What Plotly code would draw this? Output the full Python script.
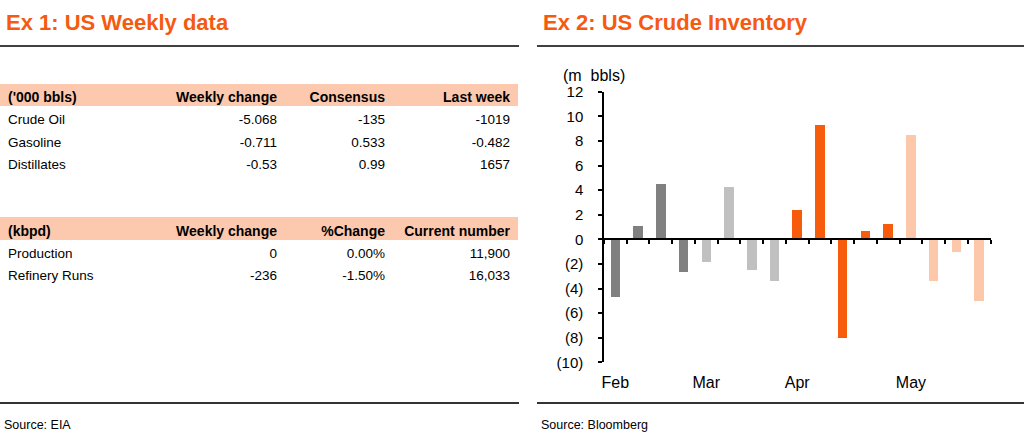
import plotly.graph_objects as go

# ---- Ex 1 table data ----
t1_header = ["('000 bbls)", "Weekly change", "Consensus", "Last week"]
t1_items = ["Crude Oil", "Gasoline", "Distillates"]
t1_weekly = ["-5.068", "-0.711", "-0.53"]
t1_consensus = ["-135", "0.533", "0.99"]
t1_last = ["-1019", "-0.482", "1657"]

t2_header = ["(kbpd)", "Weekly change", "%Change", "Current number"]
t2_items = ["Production", "Refinery Runs"]
t2_weekly = ["0", "-236"]
t2_pct = ["0.00%", "-1.50%"]
t2_current = ["11,900", "16,033"]

# ---- Ex 2 chart data (weekly crude inventory change, m bbls) ----
bar_month = ["Feb", "Feb", "Feb", "Feb",
             "Mar", "Mar", "Mar", "Mar",
             "Apr", "Apr", "Apr", "Apr", "Apr",
             "May", "May", "May", "May"]
inventory_change = [-4.7, 1.1, 4.5, -2.6,
                    -1.8, 4.3, -2.5, -3.4,
                    2.4, 9.3, -8.0, 0.7, 1.3,
                    8.5, -3.4, -1.0, -5.0]
y_ticks = [12, 10, 8, 6, 4, 2, 0, -2, -4, -6, -8, -10]

ORANGE = "#F55A0F"
PEACH = "#FCC9AE"
month_colors = {"Feb": "#808080", "Mar": "#C0C0C0", "Apr": "#F75C0C", "May": "#FDC7A9"}
FONT = "Liberation Sans, Arial, sans-serif"

W, H = 1024, 435


def py(px):
    # pixel row -> paper fraction
    return 1 - px / H


def px_x(px):
    return px / W


fig = go.Figure()

# ---- tables ----
col_w = [150, 135, 108, 125]


def add_table(header, cols, top, bottom):
    # non-breaking spaces keep plotly from wrapping the header labels
    header = [h.replace(" ", "\u00a0") for h in header]
    fig.add_trace(go.Table(
        domain=dict(x=[0, px_x(518)], y=[py(bottom), py(top)]),
        columnwidth=col_w,
        header=dict(values=header,
                    fill_color=PEACH,
                    line=dict(width=0, color=PEACH),
                    align=["left", "right", "right", "right"],
                    font=dict(family=FONT, size=14, color="black", weight="bold"),
                    height=22.5),
        cells=dict(values=cols,
                   fill_color="white",
                   line=dict(width=0, color="white"),
                   align=["left", "right", "right", "right"],
                   font=dict(family=FONT, size=13.5, color="black"),
                   height=22.5),
    ))


add_table(t1_header, [t1_items, t1_weekly, t1_consensus, t1_last], 83.5, 200)
add_table(t2_header, [t2_items, t2_weekly, t2_pct, t2_current], 217, 320)

# ---- bar chart ----
n = len(inventory_change)
fig.add_trace(go.Bar(
    x=list(range(n)),
    y=inventory_change,
    width=0.42,
    marker=dict(color=[month_colors[m] for m in bar_month], line=dict(width=0)),
    showlegend=False,
    xaxis="x", yaxis="y",
))
# carrier for the month label axis
fig.add_trace(go.Scatter(x=[], y=[], xaxis="x2", yaxis="y", showlegend=False, hoverinfo="skip"))

y_lo, y_hi = min(y_ticks), max(y_ticks)
yd = [py(362.3), py(91.7)]
zero_pos = yd[0] + (0 - y_lo) / (y_hi - y_lo) * (yd[1] - yd[0])
xr = [-0.5, n - 0.5]
month_starts = [i for i, m in enumerate(bar_month) if i == 0 or bar_month[i - 1] != m]

fig.update_layout(
    width=W, height=H,
    margin=dict(l=0, r=0, t=0, b=0, autoexpand=False),
    paper_bgcolor="white", plot_bgcolor="white",
    font=dict(family=FONT, color="black"),
    showlegend=False,
    bargap=0,
    xaxis=dict(
        domain=[px_x(604), px_x(990.5)],
        range=xr, automargin=False,
        anchor="free", position=zero_pos,
        showline=True, linecolor="black", linewidth=1.5,
        ticks="outside", ticklen=4, tickwidth=1.5, tickcolor="black",
        tickmode="array", tickvals=[i - 0.5 for i in range(n + 1)],
        showticklabels=False, showgrid=False, zeroline=False,
    ),
    xaxis2=dict(
        domain=[px_x(604), px_x(990.5)],
        range=xr, automargin=False,
        overlaying="x", anchor="y", side="bottom",
        showline=False, showgrid=False, zeroline=False,
        ticks="outside", ticklen=5, tickcolor="rgba(0,0,0,0)",
        tickmode="array", tickvals=month_starts,
        ticktext=[bar_month[i] for i in month_starts],
        tickfont=dict(family=FONT, size=16, color="black"),
    ),
    yaxis=dict(
        domain=yd,
        range=[y_lo, y_hi], automargin=False,
        showline=True, linecolor="black", linewidth=1.5,
        ticks="outside", ticklen=4, tickwidth=1.5, tickcolor="black",
        tickmode="array", tickvals=y_ticks,
        ticktext=[str(v) if v >= 0 else "(%d)" % -v for v in y_ticks],
        tickfont=dict(family=FONT, size=15, color="black"),
        ticklabelstandoff=12,
        showgrid=False, zeroline=False,
    ),
)

# ---- titles, rules, sources ----
for x0, x1, title, source in [(0, 519, "Ex 1: US Weekly data", "Source: EIA"),
                              (537, 1024, "Ex 2: US Crude Inventory", "Source: Bloomberg")]:
    fig.add_annotation(x=px_x(x0 + 4), y=py(22), xref="paper", yref="paper",
                       text=title, showarrow=False, xanchor="left", yanchor="middle",
                       font=dict(family=FONT, size=22, color=ORANGE, weight="bold"))
    fig.add_annotation(x=px_x(x0 + 2), y=py(425), xref="paper", yref="paper",
                       text=source, showarrow=False, xanchor="left", yanchor="middle",
                       font=dict(family=FONT, size=12.5, color="black"))
    fig.add_shape(type="line", xref="paper", yref="paper",
                  x0=px_x(x0), x1=px_x(x1), y0=py(46), y1=py(46),
                  line=dict(color="black", width=1.5))
    fig.add_shape(type="line", xref="paper", yref="paper",
                  x0=px_x(x0), x1=px_x(x1), y0=py(403), y1=py(403),
                  line=dict(color="#333333", width=2))

fig.add_annotation(x=px_x(561), y=py(75), xref="paper", yref="paper",
                   text="(m  bbls)", showarrow=False, xanchor="left", yanchor="middle",
                   font=dict(family=FONT, size=16, color="black"))

# page has no margin so the figure sits at the window's top-left corner
fig.write_html("out.html", config={"displayModeBar": False},
               post_script="document.body.style.margin = '0';")
